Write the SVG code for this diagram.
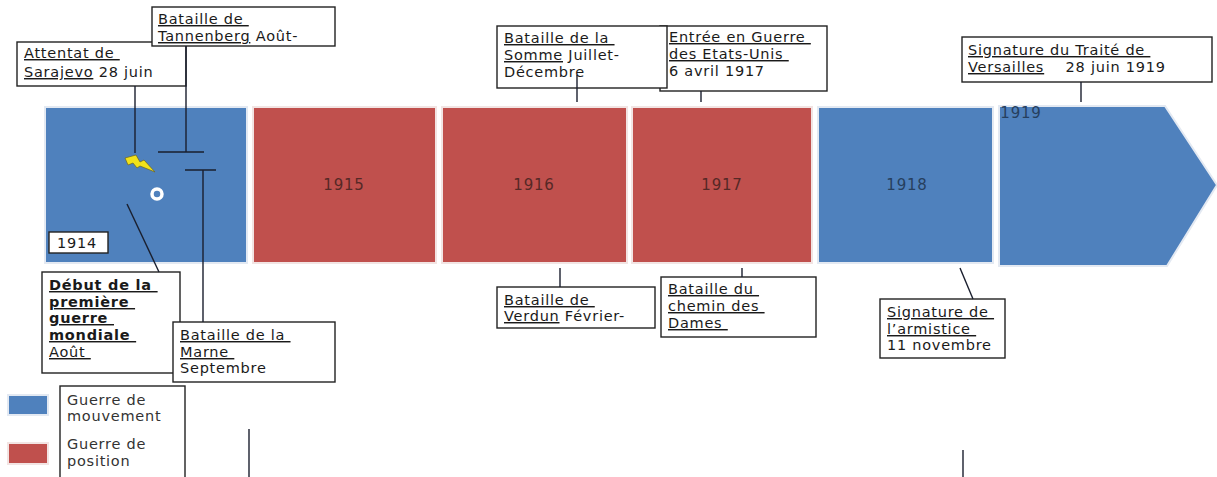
<svg xmlns="http://www.w3.org/2000/svg" width="1217" height="477" viewBox="0 0 1217 477">
<style>
.lbl{font-family:"DejaVu Sans",Verdana,sans-serif;font-size:14.5px;letter-spacing:0.75px;fill:#1a1a1a;white-space:pre}
.u{text-decoration:underline}
.b{font-weight:bold}
.box{fill:#fff;stroke:#222;stroke-width:1.4}
.blue{fill:#4F81BD;stroke:#e3e9f2;stroke-width:2}
.red{fill:#C0504D;stroke:#f2e4e3;stroke-width:2}
.yr{font-family:"DejaVu Sans",Verdana,sans-serif;font-size:15px;letter-spacing:0.8px;text-anchor:middle}
.yb{fill:#263f5e}
.yrd{fill:#552826}
.ln{stroke:#1a1f2e;stroke-width:1.4;fill:none}
</style>
<rect width="1217" height="477" fill="#fff"/>
<g id="timeline">
<g id="y1914"><rect class="blue" x="45" y="107" width="202" height="156"/></g>
<g id="y1915"><rect class="red" x="253" y="107" width="183" height="156"/><text class="yr yrd" x="344" y="190">1915</text></g>
<g id="y1916"><rect class="red" x="442" y="107" width="185" height="156"/><text class="yr yrd" x="534" y="190">1916</text></g>
<g id="y1917"><rect class="red" x="632" y="107" width="180" height="156"/><text class="yr yrd" x="722" y="190">1917</text></g>
<g id="y1918"><rect class="blue" x="818" y="107" width="175" height="156"/><text class="yr yb" x="907" y="190">1918</text></g>
<g id="y1919"><polygon class="blue" points="999,106 1165,106 1217,185 1167,266 999,266"/><text class="yr yb" x="1021" y="118">1919</text></g>
</g>
<g id="icons">
<polygon points="125,158 136,155 140,162 144,160 155,172 140,166 137,168 133,163 128,165" fill="#f2e21a" stroke="#6b6420" stroke-width="0.7"/>
<circle cx="157" cy="194" r="5" fill="none" stroke="#fff" stroke-width="3.5"/>
</g>
<g id="label-1914"><rect class="box" x="49" y="232" width="59" height="21"/><text class="lbl" x="57" y="248">1914</text></g>
<g id="sarajevo"><rect class="box" x="17" y="42" width="169" height="44"/><text class="lbl" x="24" y="58"><tspan class="u">Attentat de </tspan></text><text class="lbl" x="24" y="77"><tspan class="u">Sarajevo</tspan> 28 juin</text></g>
<g id="tannenberg"><rect class="box" x="152" y="7" width="183" height="39"/><text class="lbl" x="158" y="24"><tspan class="u">Bataille de </tspan></text><text class="lbl" x="158" y="41"><tspan class="u">Tannenberg</tspan> Août-</text></g>
<g id="entree"><rect class="box" x="660" y="26" width="167" height="65"/><text class="lbl" x="669" y="42"><tspan class="u">Entrée en Guerre </tspan></text><text class="lbl" x="669" y="59"><tspan class="u">des Etats-Unis </tspan></text><text class="lbl" x="669" y="76">6 avril 1917</text></g>
<g id="somme"><rect class="box" x="497" y="26" width="170" height="62"/><text class="lbl" x="504" y="43"><tspan class="u">Bataille de la </tspan></text><text class="lbl" x="504" y="60"><tspan class="u">Somme</tspan> Juillet-</text><text class="lbl" x="504" y="77">Décembre</text></g>
<g id="versailles"><rect class="box" x="962" y="37" width="250" height="45"/><text class="lbl" x="968" y="55"><tspan class="u">Signature du Traité de </tspan></text><text class="lbl" x="968" y="72"><tspan class="u">Versailles</tspan>    28 juin 1919</text></g>
<g id="debut"><rect class="box" x="42" y="272" width="138" height="101"/><text class="lbl b" x="49" y="290"><tspan class="u">Début de la </tspan></text><text class="lbl b" x="49" y="307"><tspan class="u">première </tspan></text><text class="lbl b" x="49" y="323"><tspan class="u">guerre </tspan></text><text class="lbl b" x="49" y="340"><tspan class="u">mondiale </tspan></text><text class="lbl" x="49" y="357"><tspan class="u">Août </tspan></text></g>
<g id="marne"><rect class="box" x="173" y="322" width="162" height="60"/><text class="lbl" x="180" y="340"><tspan class="u">Bataille de la </tspan></text><text class="lbl" x="180" y="357"><tspan class="u">Marne </tspan></text><text class="lbl" x="180" y="373">Septembre</text></g>
<g id="verdun"><rect class="box" x="497" y="287" width="158" height="41"/><text class="lbl" x="504" y="305"><tspan class="u">Bataille de </tspan></text><text class="lbl" x="504" y="321"><tspan class="u">Verdun</tspan> Février-</text></g>
<g id="chemin"><rect class="box" x="661" y="277" width="155" height="60"/><text class="lbl" x="668" y="294"><tspan class="u">Bataille du </tspan></text><text class="lbl" x="668" y="311"><tspan class="u">chemin des </tspan></text><text class="lbl" x="668" y="328"><tspan class="u">Dames </tspan></text></g>
<g id="armistice"><rect class="box" x="880" y="299" width="125" height="59"/><text class="lbl" x="887" y="317"><tspan class="u">Signature de </tspan></text><text class="lbl" x="887" y="334"><tspan class="u">l’armistice </tspan></text><text class="lbl" x="887" y="350">11 novembre</text></g>
<g id="legend">
<rect x="8" y="395" width="40" height="20" fill="#4F81BD" stroke="#e3e9f2" stroke-width="2"/>
<rect x="8" y="443" width="40" height="21" fill="#C0504D" stroke="#f2e4e3" stroke-width="2"/>
<rect class="box" x="60" y="386" width="125" height="100"/>
<text class="lbl" x="67" y="405" style="fill:#333">Guerre de</text>
<text class="lbl" x="67" y="421" style="fill:#333">mouvement</text>
<text class="lbl" x="67" y="449" style="fill:#333">Guerre de</text>
<text class="lbl" x="67" y="466" style="fill:#333">position</text>
</g>
<g id="connectors">
<path class="ln" d="M135,86 V153"/>
<path class="ln" d="M186,46 V152 M158,152 H204"/>
<path class="ln" d="M185,170 H216 M203,170 V322"/>
<path class="ln" d="M127,204 L159,272"/>
<path class="ln" d="M577,75 V102"/>
<path class="ln" d="M701,91 V102"/>
<path class="ln" d="M1081,82 V102"/>
<path class="ln" d="M560,268 V287"/>
<path class="ln" d="M742,268 V277"/>
<path class="ln" d="M960,268 L973,299"/>
<path class="ln" d="M249,429 V477"/>
<path class="ln" d="M963,450 V477"/>
</g>
</svg>
